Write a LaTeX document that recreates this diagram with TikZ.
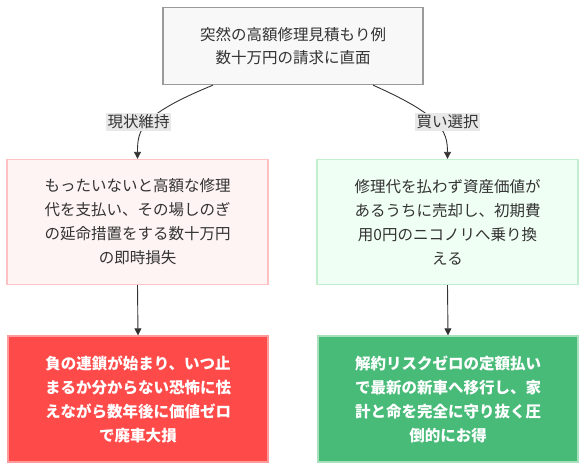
\documentclass[tikz,border=0pt]{standalone}
\usepackage{fontspec}
\setmainfont{Noto Sans CJK JP}
\usetikzlibrary{arrows.meta}
\definecolor{topfill}{HTML}{F8F8F8}
\definecolor{topdraw}{HTML}{9A9A9A}
\definecolor{badfill}{HTML}{FFF4F4}
\definecolor{baddraw}{HTML}{FFC2C2}
\definecolor{goodfill}{HTML}{F0FFF4}
\definecolor{gooddraw}{HTML}{C2EFD0}
\definecolor{worstfill}{HTML}{FF4A4A}
\definecolor{worstdraw}{HTML}{FF9A9A}
\definecolor{bestfill}{HTML}{48BB78}
\definecolor{bestdraw}{HTML}{A8E0BC}
\definecolor{txt}{HTML}{333333}
\definecolor{edgecol}{HTML}{333333}
\definecolor{labbg}{HTML}{E8E8E8}
\tikzset{
  x=1pt, y=1pt,
  box/.style={rectangle, align=center, inner sep=0pt, line width=1.3pt,
    font=\fontsize{15.5}{24}\selectfont, text=txt},
  topbox/.style={box, fill=topfill, draw=topdraw, minimum width=260pt, minimum height=77pt, font=\fontsize{15.5}{23}\selectfont},
  midbox/.style={box, minimum width=261pt, minimum height=125pt},
  botbox/.style={box, minimum width=260pt, minimum height=126pt, text=white, font=\fontsize{15.5}{24}\selectfont\bfseries},
  edge/.style={draw=edgecol, line width=0.9pt, -{Triangle[length=7pt,width=7pt]}},
  edgelab/.style={fill=labbg, inner sep=1.5pt, text=txt, font=\fontsize{15.5}{18}\selectfont},
}
\begin{document}
\begin{tikzpicture}
\useasboundingbox (0,0) rectangle (586,-470);
\node[topbox] (top) at (293,-46) {突然の高額修理見積もり例\\数十万円の請求に直面};
\node[midbox, fill=badfill, draw=baddraw] (keep) at (137.5,-222) {もったいないと高額な修理\\代を支払い、その場しのぎ\\の延命措置をする数十万円\\の即時損失};
\node[midbox, fill=goodfill, draw=gooddraw] (buy) at (447.5,-222) {修理代を払わず資産価値が\\あるうちに売却し、初期費\\用0円のニコノリへ乗り換\\える};
\node[botbox, fill=worstfill, draw=worstdraw] (worst) at (138,-399) {負の連鎖が始まり、いつ止\\まるか分からない恐怖に怯\\えながら数年後に価値ゼロ\\で廃車大損};
\node[botbox, fill=bestfill, draw=bestdraw] (best) at (448,-399) {解約リスクゼロの定額払い\\で最新の新車へ移行し、家\\計と命を完全に守り抜く圧\\倒的にお得};
\coordinate (s1) at ([xshift=-80pt]top.south);
\coordinate (s2) at ([xshift=80pt]top.south);
\draw[edge] (s1) .. controls (140,-115) and (137.5,-130) .. (keep.north);
\draw[edge] (s2) .. controls (440,-115) and (447.5,-130) .. (buy.north);
\node[edgelab] (l1) at (138.5,-122) {現状維持};
\node[edgelab] (l2) at (447.5,-122) {買い選択};
\draw[edge] (keep.south) -- (worst.north);
\draw[edge] (buy.south) -- (best.north);
\end{tikzpicture}
\end{document}
